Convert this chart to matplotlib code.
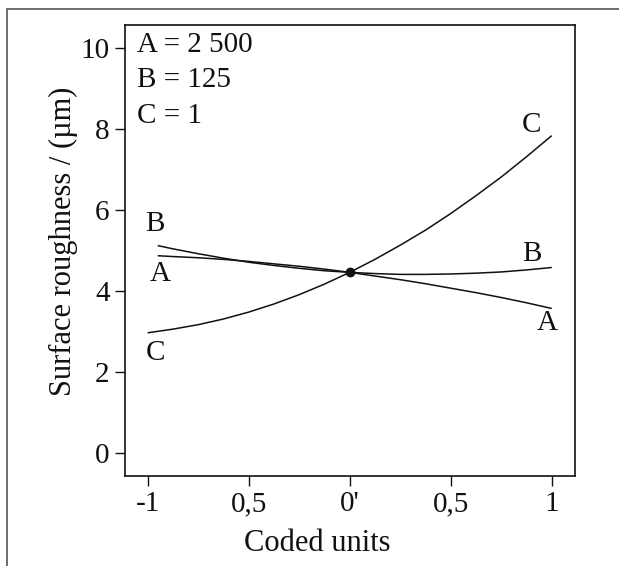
import numpy as np
import matplotlib
matplotlib.use("Agg")
import matplotlib.pyplot as plt
from matplotlib.patches import Rectangle

plt.rcParams['font.family'] = ['Liberation Serif', 'DejaVu Serif']
plt.rcParams['mathtext.fontset'] = 'stix'

# ---- data ----
x_a = [-0.95, -0.875, -0.75, -0.625, -0.5, -0.375, -0.25, -0.125, 0.0,
       0.125, 0.25, 0.375, 0.5, 0.625, 0.75, 0.875, 1.0]
y_a = [4.87, 4.85, 4.82, 4.78, 4.73, 4.67, 4.61, 4.54, 4.46,
       4.37, 4.28, 4.18, 4.07, 3.96, 3.84, 3.71, 3.57]

x_b = [-0.95, -0.875, -0.75, -0.625, -0.5, -0.375, -0.25, -0.125, 0.0,
       0.125, 0.25, 0.375, 0.5, 0.625, 0.75, 0.875, 1.0]
y_b = [5.12, 5.04, 4.92, 4.81, 4.71, 4.63, 4.56, 4.50, 4.46,
       4.43, 4.41, 4.41, 4.42, 4.44, 4.47, 4.52, 4.58]

x_c = [-1.0, -0.875, -0.75, -0.625, -0.5, -0.375, -0.25, -0.125, 0.0,
       0.125, 0.25, 0.375, 0.5, 0.625, 0.75, 0.875, 1.0]
y_c = [2.97, 3.06, 3.17, 3.31, 3.48, 3.68, 3.91, 4.17, 4.46,
       4.78, 5.13, 5.50, 5.91, 6.35, 6.81, 7.31, 7.83]

center_x = [0.0]
center_y = [4.46]

x_ticks = [-1, -0.5, 0, 0.5, 1]
x_tick_labels = ["-1", "0,5", "0'", "0,5", "1"]
y_ticks = [0, 2, 4, 6, 8, 10]

legend_lines = ["A = 2 500", "B = 125", "C = 1"]

# curve name labels (name, x, y)
curve_labels = [("B", -0.965, 5.65), ("A", -0.94, 4.42), ("C", -0.96, 2.48),
                ("C", 0.90, 8.09), ("B", 0.90, 4.91), ("A", 0.98, 3.22)]

# ---- figure ----
fig = plt.figure(figsize=(6.19, 5.66), dpi=100)
ax = fig.add_axes([0.2019, 0.159, 0.727, 0.797])

# outer frame of the original figure
fig.add_artist(Rectangle((7 / 619, -0.05), 1.2, (566 - 9) / 566 + 0.05,
                         transform=fig.transFigure, fill=False,
                         edgecolor='#555555', linewidth=1.2, clip_on=False))

line_kw = dict(color='#111111', linewidth=1.1, solid_capstyle='butt')
ax.plot(x_a, y_a, **line_kw)
ax.plot(x_b, y_b, **line_kw)
ax.plot(x_c, y_c, **line_kw)
ax.plot(center_x, center_y, 'o', color='#111111', markersize=6, zorder=5)

for name, tx, ty in curve_labels:
    ax.text(tx, ty, name, fontsize=21, ha='center', va='center', color='#111111')

for i, s in enumerate(legend_lines):
    ax.text(0.026, 0.955 - i * 0.078, s, transform=ax.transAxes, fontsize=21,
            ha='left', va='center', color='#111111')

ax.set_xlim(-1.112, 1.115)
ax.set_ylim(-0.56, 10.56)
ax.set_xticks(x_ticks)
ax.set_xticklabels(x_tick_labels)
ax.set_yticks(y_ticks)

ax.tick_params(direction='out', length=7, width=1.0, labelsize=21,
               colors='#111111', pad=4)
for sp in ax.spines.values():
    sp.set_linewidth(1.2)
    sp.set_color('#111111')

ax.set_xlabel("Coded units", fontsize=22, color='#111111')
ax.xaxis.set_label_coords(0.428, -0.118)
ax.set_ylabel("Surface roughness / (µm)", fontsize=22, color='#111111')
ax.yaxis.set_label_coords(-0.104, 0.52)

fig.savefig("out.png", dpi=100)
